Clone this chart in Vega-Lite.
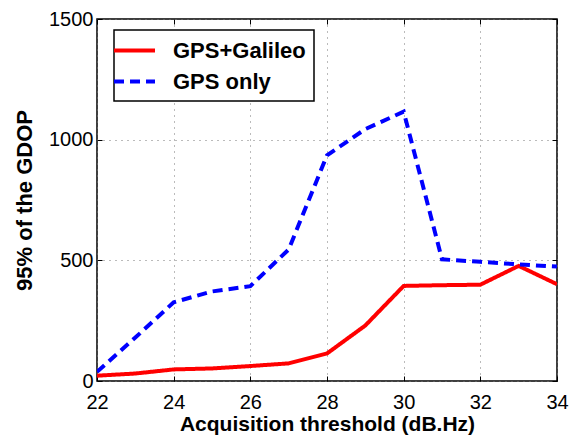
{
  "$schema": "https://vega.github.io/schema/vega-lite/v6.json",
  "width": 460,
  "height": 362,
  "autosize": {"type": "none"},
  "padding": {"left": 97, "top": 19, "right": 14, "bottom": 56},
  "background": "white",
  "config": {
    "font": "Liberation Sans",
    "view": {"stroke": "black", "strokeWidth": 1.5},
    "axis": {
      "domain": false,
      "tickColor": "black",
      "tickSize": -5,
      "labelFontSize": 21,
      "labelColor": "black",
      "labelFont": "Liberation Sans",
      "titleFont": "Liberation Sans",
      "titleFontSize": 22,
      "titleFontWeight": "bold",
      "titleColor": "black"
    },
    "legend": {
      "orient": "none",
      "legendX": 17,
      "legendY": 11,
      "strokeColor": "black",
      "fillColor": "white",
      "strokeWidth": 1.5,
      "padding": 8,
      "title": null,
      "labelFontSize": 22,
      "labelFontWeight": "bold",
      "labelColor": "black",
      "labelFont": "Liberation Sans",
      "symbolType": "M-2,0H2",
      "symbolSize": 420,
      "symbolStrokeWidth": 4,
      "labelOffset": 26,
      "rowPadding": 7,
      "symbolOffset": 0
    }
  },
  "data": {
    "values": [
      {"x": 22, "value": 22, "series": "GPS+Galileo"},
      {"x": 23, "value": 31, "series": "GPS+Galileo"},
      {"x": 24, "value": 48, "series": "GPS+Galileo"},
      {"x": 25, "value": 52, "series": "GPS+Galileo"},
      {"x": 26, "value": 62, "series": "GPS+Galileo"},
      {"x": 27, "value": 73, "series": "GPS+Galileo"},
      {"x": 28, "value": 114, "series": "GPS+Galileo"},
      {"x": 29, "value": 230, "series": "GPS+Galileo"},
      {"x": 30, "value": 394, "series": "GPS+Galileo"},
      {"x": 31, "value": 397, "series": "GPS+Galileo"},
      {"x": 32, "value": 399, "series": "GPS+Galileo"},
      {"x": 33, "value": 477, "series": "GPS+Galileo"},
      {"x": 34, "value": 401, "series": "GPS+Galileo"},
      {"x": 22, "value": 38, "series": "GPS only"},
      {"x": 23, "value": 180, "series": "GPS only"},
      {"x": 24, "value": 326, "series": "GPS only"},
      {"x": 25, "value": 371, "series": "GPS only"},
      {"x": 26, "value": 393, "series": "GPS only"},
      {"x": 27, "value": 545, "series": "GPS only"},
      {"x": 28, "value": 935, "series": "GPS only"},
      {"x": 29, "value": 1044, "series": "GPS only"},
      {"x": 30, "value": 1116, "series": "GPS only"},
      {"x": 31, "value": 504, "series": "GPS only"},
      {"x": 32, "value": 494, "series": "GPS only"},
      {"x": 33, "value": 483, "series": "GPS only"},
      {"x": 34, "value": 474, "series": "GPS only"}
    ]
  },
  "resolve": {"axis": {"x": "independent", "y": "independent"}},
  "layer": [
    {
      "mark": {"type": "line", "strokeWidth": 4, "clip": true},
      "encoding": {
        "x": {
          "field": "x", "type": "quantitative",
          "scale": {"domain": [22, 34], "nice": false, "zero": false},
          "axis": {"values": [22, 24, 26, 28, 30, 32, 34], "title": "Acquisition threshold (dB.Hz)", "labelFontSize": 20, "labelPadding": 16, "titlePadding": 1, "titleFontSize": 21, "labelFlush": false,
                   "grid": true, "gridColor": "#777", "gridDash": [1, 5], "gridWidth": 1}
        },
        "y": {
          "field": "value", "type": "quantitative",
          "scale": {"domain": [0, 1500], "nice": false},
          "axis": {"values": [0, 500, 1000, 1500], "format": "d", "title": "95% of the GDOP", "labelFontSize": 20, "labelPadding": 9, "titlePadding": 12,
                   "grid": true, "gridColor": "#777", "gridDash": [1, 5], "gridWidth": 1}
        },
        "color": {
          "field": "series", "type": "nominal",
          "scale": {"domain": ["GPS+Galileo", "GPS only"], "range": ["#ff0000", "#0000ff"]}
        },
        "strokeDash": {
          "field": "series", "type": "nominal",
          "scale": {"domain": ["GPS+Galileo", "GPS only"], "range": [[1, 0], [10, 6]]}
        }
      }
    },
    {
      "mark": {"type": "line", "opacity": 0},
      "encoding": {
        "x": {
          "field": "x", "type": "quantitative",
          "axis": {"orient": "top", "values": [22, 24, 26, 28, 30, 32, 34], "labels": false, "title": null, "grid": false}
        },
        "y": {
          "field": "value", "type": "quantitative",
          "axis": {"orient": "right", "values": [0, 500, 1000, 1500], "labels": false, "title": null, "grid": false}
        }
      }
    }
  ]
}
